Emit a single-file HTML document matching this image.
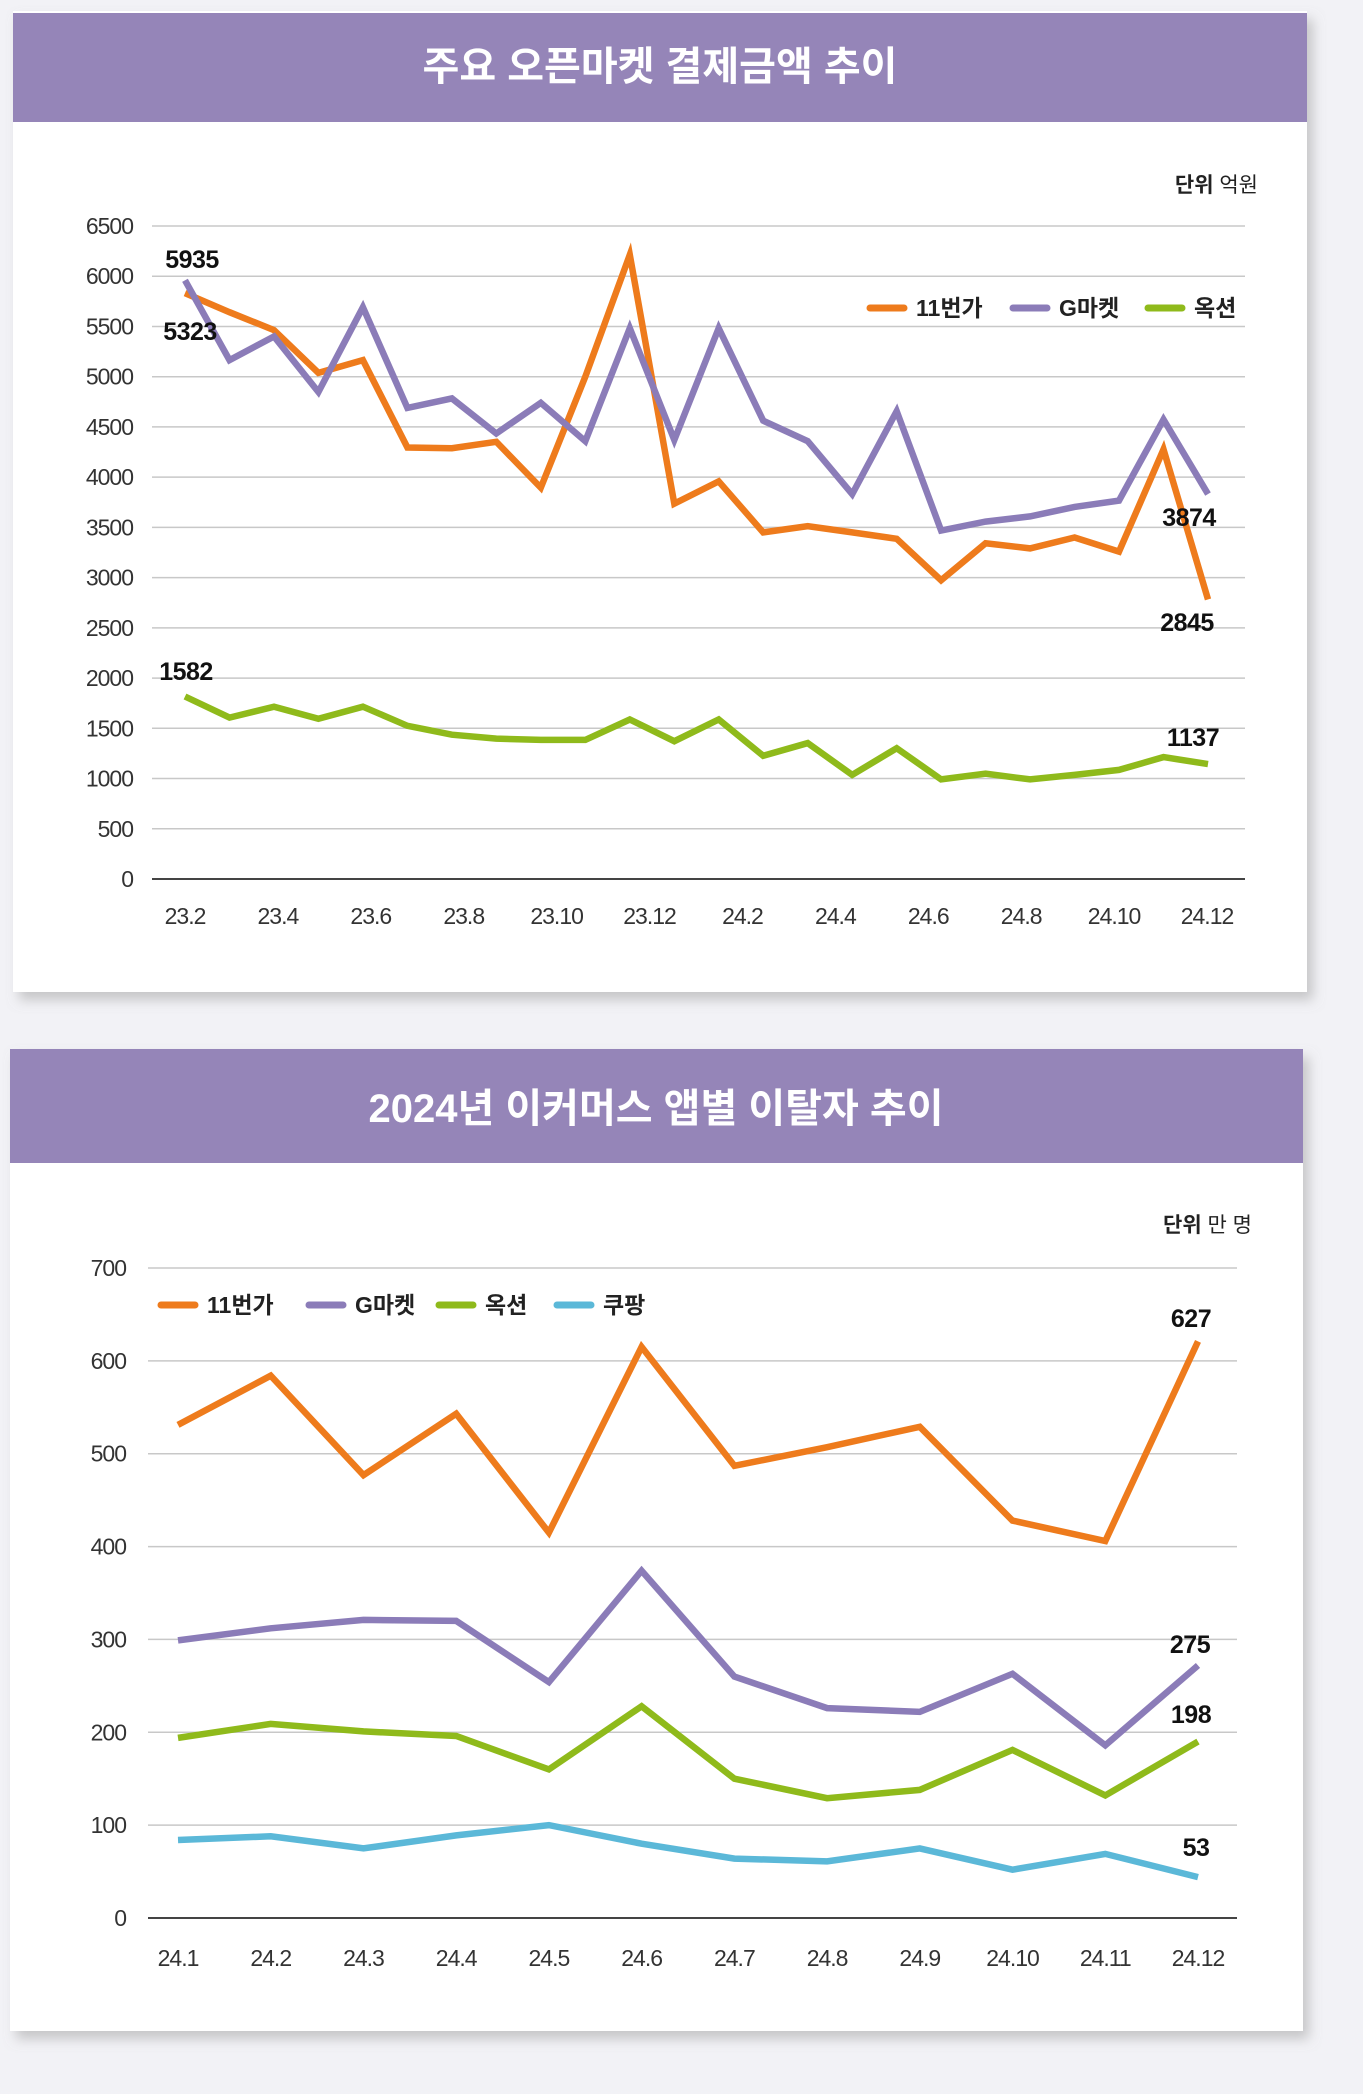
<!DOCTYPE html>
<html><head><meta charset="utf-8">
<style>
html,body{margin:0;padding:0;background:#f2f2f6;}
body{width:1363px;height:2089px;position:relative;overflow:hidden;font-family:"Liberation Sans","Noto Sans CJK KR",sans-serif;}
svg text{font-family:"Liberation Sans","Noto Sans CJK KR",sans-serif;}
</style></head>
<body>
<svg id="s" width="1363" height="2089" viewBox="0 0 1363 2089" xmlns="http://www.w3.org/2000/svg">
<defs><filter id="sh" x="-5%" y="-5%" width="115%" height="115%"><feDropShadow dx="6" dy="8" stdDeviation="6" flood-color="#999" flood-opacity="0.5"/></filter></defs>
<rect x="13" y="11" width="1294" height="981" fill="#fff" filter="url(#sh)"/>
<rect x="13" y="13" width="1294" height="109" fill="#9585b8"/>
<text x="660" y="80" text-anchor="middle" font-size="40" font-weight="bold" fill="#fff">주요 오픈마켓 결제금액 추이</text>
<text x="1258" y="192" text-anchor="end" font-size="21" fill="#222"><tspan font-weight="bold">단위</tspan> 억원</text>
<rect x="10" y="1049" width="1293" height="982" fill="#fff" filter="url(#sh)"/>
<rect x="10" y="1049" width="1293" height="114" fill="#9585b8"/>
<text x="656" y="1122" text-anchor="middle" font-size="40" font-weight="bold" fill="#fff">2024년 이커머스 앱별 이탈자 추이</text>
<text x="1252" y="1232" text-anchor="end" font-size="21" fill="#222"><tspan font-weight="bold">단위</tspan> 만 명</text>
<g id="c1"></g><g id="c2"></g>
</svg>
<script>
// Chart 1 data
const c1Ticks=[0,500,1000,1500,2000,2500,3000,3500,4000,4500,5000,5500,6000,6500];
const c1XLabels=["23.2","23.4","23.6","23.8","23.10","23.12","24.2","24.4","24.6","24.8","24.10","24.12"];
const c1Eleven=[5832,5642,5464,5038,5165,4295,4288,4352,3895,5000,6213,3736,3958,3450,3513,3450,3386,2973,3342,3291,3399,3259,4276,2783];
const c1Gmarket=[5959,5165,5400,4848,5692,4689,4784,4435,4740,4358,5483,4371,5483,4562,4358,3831,4657,3469,3558,3609,3704,3767,4574,3831];
const c1Auction=[1817,1607,1715,1595,1715,1525,1436,1398,1385,1385,1588,1372,1588,1226,1353,1036,1302,991,1048,991,1036,1086,1213,1144];
// Chart 2 data
const c2Ticks=[0,100,200,300,400,500,600,700];
const c2XLabels=["24.1","24.2","24.3","24.4","24.5","24.6","24.7","24.8","24.9","24.10","24.11","24.12"];
const c2Eleven=[531,584,477,543,415,615,487,507,529,428,406,621];
const c2Gmarket=[299,312,321,320,254,374,260,226,222,263,186,272];
const c2Auction=[194,209,201,196,160,228,150,129,138,181,132,190];
const c2Coupang=[84,88,75,89,100,80,64,61,75,52,69,44];

const NS="http://www.w3.org/2000/svg";
function mk(p,tag,at,txt){const e=document.createElementNS(NS,tag);for(const k in at)e.setAttribute(k,at[k]);if(txt!==undefined)e.textContent=txt;p.appendChild(e);return e;}
const COL={o:"#ee7b1c",p:"#8b7cb8",g:"#8fba1b",c:"#5bb8d8"};

function drawChart(g,cfg){
  const y=v=>cfg.y0-(v/cfg.ymax)*(cfg.y0-cfg.yTop);
  const x=i=>cfg.x0+i*(cfg.x1-cfg.x0)/(cfg.n-1);
  cfg.ticks.forEach(t=>{
    const l=mk(g,"line",{x1:cfg.gx0,x2:cfg.gx1,y1:y(t),y2:y(t),stroke:t===0?"#444":"#c8c8c8","stroke-width":t===0?2:1.5});
    
    
    const tx=mk(g,"text",{x:cfg.tickX,y:y(t)+8,"text-anchor":"end","font-size":23,fill:"#333","letter-spacing":"-1"},String(t));
    
    
  });
  cfg.xlabels.forEach((lab,i)=>{
    const lx=cfg.lx0+i*(cfg.lx1-cfg.lx0)/(cfg.xlabels.length-1);
    const t=mk(g,"text",{x:lx,y:cfg.labY,"text-anchor":"middle","font-size":23,fill:"#333","letter-spacing":"-1"},lab);
    
    
  });
  cfg.series.forEach(s=>{
    const pts=s.data.map((v,i)=>x(i).toFixed(1)+","+y(v).toFixed(1)).join(" ");
    const pl=mk(g,"polyline",{points:pts,fill:"none",stroke:s.color,"stroke-width":6.5,"stroke-linejoin":"miter","stroke-linecap":"butt"});
    
    
  });
  cfg.legend.forEach(L=>{
    const ln=mk(g,"line",{x1:L.x,x2:L.x+34,y1:cfg.legY,y2:cfg.legY,stroke:L.color,"stroke-width":7,"stroke-linecap":"round"});
    
    
    const t=mk(g,"text",{x:L.x+46,y:cfg.legY+8,"font-size":23,"font-weight":"bold",fill:"#222"},L.label);
    
    
  });
  cfg.anns.forEach(a=>{
    const t=mk(g,"text",{x:a.x,y:a.y,"text-anchor":"middle","font-size":25,"font-weight":"bold",fill:"#111","letter-spacing":"-0.5"},a.t);
    
    
  });
}

drawChart(document.getElementById("c1"),{
  y0:879,yTop:226,ymax:6500,x0:185,x1:1208,n:c1Eleven.length,gx0:152,gx1:1245,tickX:133,
  ticks:c1Ticks,xlabels:c1XLabels,lx0:185,lx1:1207,labY:924,
  series:[{name:"11st",data:c1Eleven,color:COL.o},{name:"gmarket",data:c1Gmarket,color:COL.p},{name:"auction",data:c1Auction,color:COL.g}],
  legY:308,legend:[{x:870,label:"11번가",color:COL.o},{x:1013,label:"G마켓",color:COL.p},{x:1148,label:"옥션",color:COL.g}],
  anns:[{x:192,y:268,t:"5935"},{x:190,y:340,t:"5323"},{x:1189,y:526,t:"3874"},{x:1187,y:631,t:"2845"},{x:186,y:680,t:"1582"},{x:1193,y:746,t:"1137"}]
});
drawChart(document.getElementById("c2"),{
  y0:1918,yTop:1268,ymax:700,x0:178,x1:1198,n:c2Eleven.length,gx0:148,gx1:1237,tickX:126,
  ticks:c2Ticks,xlabels:c2XLabels,lx0:178,lx1:1198,labY:1966,
  series:[{name:"11st",data:c2Eleven,color:COL.o},{name:"gmarket",data:c2Gmarket,color:COL.p},{name:"auction",data:c2Auction,color:COL.g},{name:"coupang",data:c2Coupang,color:COL.c}],
  legY:1305,legend:[{x:161,label:"11번가",color:COL.o},{x:309,label:"G마켓",color:COL.p},{x:439,label:"옥션",color:COL.g},{x:557,label:"쿠팡",color:COL.c}],
  anns:[{x:1191,y:1327,t:"627"},{x:1190,y:1653,t:"275"},{x:1191,y:1723,t:"198"},{x:1196,y:1856,t:"53"}]
});
</script>
</body></html>
